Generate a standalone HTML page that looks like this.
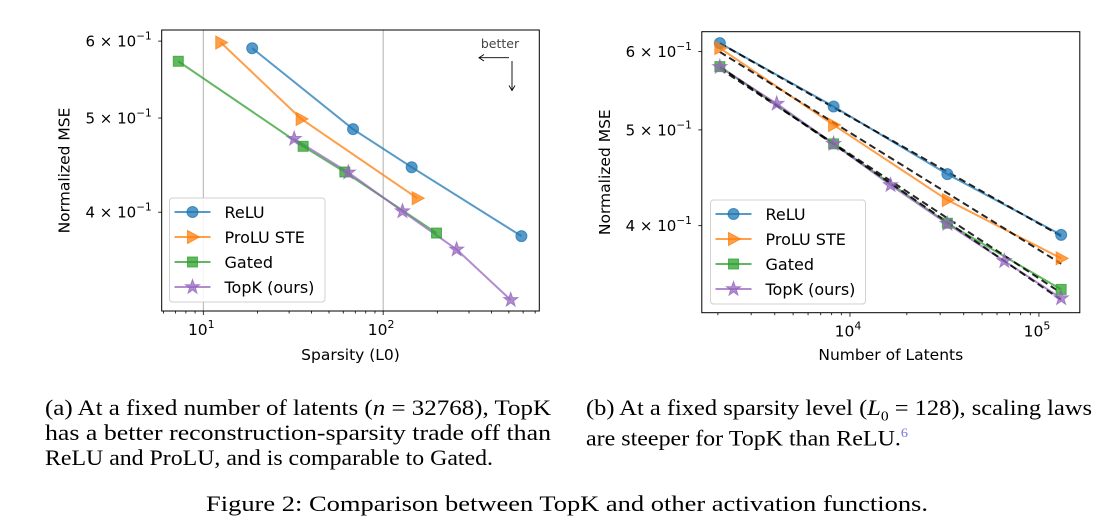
<!DOCTYPE html>
<html><head><meta charset="utf-8">
<style>
body{margin:0;background:#fff;width:1108px;height:529px;overflow:hidden;position:relative;font-family:"DejaVu Sans","Liberation Sans",sans-serif}
.ln{position:absolute;font-family:"Liberation Serif",serif;font-size:22px;line-height:25px;color:#000;white-space:nowrap;transform-origin:0 50%}
</style></head><body>
<svg id="fig" width="1108" height="380" style="position:absolute;left:0;top:0" font-family="DejaVu Sans, Liberation Sans, sans-serif"></svg>
<div>
<div class="ln" data-w="506" style="left:45px;top:395px">(a) At a fixed number of latents (<i>n</i> = 32768), TopK</div>
<div class="ln" data-w="506" style="left:45px;top:420px">has a better reconstruction-sparsity trade off than</div>
<div class="ln" data-w="448" style="left:45px;top:445px">ReLU and ProLU, and is comparable to Gated.</div>
</div>
<div>
<div class="ln" data-w="506" style="left:586px;top:395px">(b) At a fixed sparsity level (<i>L</i><sub style="font-size:14px">0</sub> = 128), scaling laws</div>
<div class="ln" data-w="322" style="left:586px;top:420px">are steeper for TopK than ReLU.<sup style="color:#7777dd;font-size:13px">6</sup></div>
</div>
<div class="ln" data-w="722" style="left:206px;top:491px">Figure 2: Comparison between TopK and other activation functions.</div>
<script>
// ---- Left chart data ----
const seriesNames=["ReLU","ProLU STE","Gated","TopK (ours)"];
const leftReluX=[18.7,68,144,587];
const leftReluY=[0.590,0.487,0.445,0.378];
const leftProluX=[12.5,35,154.6];
const leftProluY=[0.598,0.499,0.4135];
const leftGatedX=[7.26,35.9,61.2,198];
const leftGatedY=[0.572,0.4676,0.440,0.3807];
const leftTopkX=[32,64,128,256,512];
const leftTopkY=[0.476,0.4395,0.4009,0.3662,0.3249];
// ---- Right chart data ----
const rightReluX=[2048,8192,32768,131072];
const rightReluY=[0.612,0.528,0.451,0.3915];
const rightProluX=[2048,8192,32768,131072];
const rightProluY=[0.605,0.5058,0.4246,0.3707];
const rightGatedX=[2048,8192,32768,131072];
const rightGatedY=[0.5794,0.484,0.4023,0.3448];
const rightTopkX=[2048,4096,8192,16384,32768,65536,131072];
const rightTopkY=[0.579,0.5314,0.484,0.4397,0.4017,0.3684,0.3378];
const yTickVals=[0.4,0.5,0.6];
const yTickLabels=["4","5","6"];
const leftXTicks=[10,100];
const leftXTickLabels=["1","2"];
const rightXTicks=[10000,100000];
const rightXTickLabels=["4","5"];

// fit caption lines to reference widths
document.querySelectorAll('.ln').forEach(d=>{const w=+d.getAttribute('data-w');const r=d.getBoundingClientRect().width;d.style.transform='scaleX('+(w/r)+')';});

const NS="http://www.w3.org/2000/svg";
const svg=document.getElementById('fig');
const colors=["#1f77b4","#ff7f0e","#2ca02c","#9467bd"];
const markers=["circle","tri","square","star"];
function el(tag,attrs,parent){const e=document.createElementNS(NS,tag);for(const k in attrs)e.setAttribute(k,attrs[k]);(parent||svg).appendChild(e);return e;}
const L=Math.log10;
function makeChart(c){
  const g=el('g',{});
  
  
  const sx=v=>c.x0+(L(v)-L(c.xmin))/(L(c.xmax)-L(c.xmin))*(c.x1-c.x0);
  const sy=v=>c.y1-(L(v)-L(c.ymin))/(L(c.ymax)-L(c.ymin))*(c.y1-c.y0);
  if(c.grid){c.xt.forEach(v=>{const l=el('line',{x1:sx(v),x2:sx(v),y1:c.y0,y2:c.y1,stroke:'#b0b0b0','stroke-width':1},g);
    
    });}
  for(let d=Math.floor(L(c.xmin));d<=Math.ceil(L(c.xmax));d++){for(let m=2;m<=9;m++){const v=m*Math.pow(10,d);if(v>c.xmin&&v<c.xmax){const t=el('line',{x1:sx(v),x2:sx(v),y1:c.y1,y2:c.y1+2.5,stroke:'#000','stroke-width':0.8},g);
    
    }}}
  c.xt.forEach((v,i)=>{const t=el('line',{x1:sx(v),x2:sx(v),y1:c.y1,y2:c.y1+4,stroke:'#000','stroke-width':0.8},g);
    
    
    const tx=el('text',{x:sx(v)-2,y:c.y1+24,'font-size':15.5,'text-anchor':'middle',fill:'#000'},g);
    
    
    tx.innerHTML='10<tspan dy="-7" font-size="11">'+c.xtl[i]+'</tspan>';});
  yTickVals.forEach((v,i)=>{const t=el('line',{x1:c.x0-3.5,x2:c.x0,y1:sy(v),y2:sy(v),stroke:'#000','stroke-width':0.8},g);
    
    
    const tx=el('text',{x:c.x0-10,y:sy(v)+5.5,'font-size':15,'text-anchor':'end',fill:'#000'},g);
    
    
    tx.innerHTML=yTickLabels[i]+' × 10<tspan dy="-7" font-size="10.5">−1</tspan>';});
  const xl=el('text',{x:(c.x0+c.x1)/2,y:360,'font-size':15.5,'text-anchor':'middle'},g);
  
  
  xl.textContent=c.xlabel;
  const yl=el('text',{x:0,y:0,'font-size':15.5,'text-anchor':'middle',transform:`translate(${c.x0-92},${(c.y0+c.y1)/2})rotate(-90)`},g);
  
  
  yl.textContent='Normalized MSE';
  c.series.forEach((s,i)=>{const p=el('polyline',{points:s[0].map((x,j)=>sx(x)+','+sy(s[1][j])).join(' '),fill:'none',stroke:colors[i],'stroke-width':2,'stroke-opacity':0.75},g);
    
    });
  if(c.fit){c.series.forEach((s,i)=>{const lx=s[0].map(L),ly=s[1].map(L),n=lx.length;
    const mx=lx.reduce((a,b)=>a+b)/n,my=ly.reduce((a,b)=>a+b)/n;let num=0,den=0;
    for(let j=0;j<n;j++){num+=(lx[j]-mx)*(ly[j]-my);den+=(lx[j]-mx)**2;}
    const b=num/den,a=my-b*mx,xa=s[0][0],xb=s[0][n-1];
    const f=el('line',{x1:sx(xa),y1:sy(Math.pow(10,a+b*L(xa))),x2:sx(xb),y2:sy(Math.pow(10,a+b*L(xb))),stroke:'#000','stroke-width':2,'stroke-dasharray':'7,4','stroke-opacity':0.85},g);
    
    });}
  c.series.forEach((s,i)=>{s[0].forEach((x,j)=>{const m=marker(markers[i],sx(x),sy(s[1][j]),colors[i],g);
    
    });});
  const fr=el('rect',{x:c.x0,y:c.y0,width:c.x1-c.x0,height:c.y1-c.y0,fill:'none',stroke:'#000','stroke-width':1},g);
  
  
  const lg=el('g',{},g);
  
  
  el('rect',{x:c.lg.x,y:c.lg.y,width:c.lg.w,height:c.lg.h,rx:3,fill:'#fff','fill-opacity':0.85,stroke:'#d0d0d0'},lg);
  seriesNames.forEach((nm,i)=>{const yy=c.lg.y+14+i*25;
    const e=el('g',{},lg);
    
    
    el('line',{x1:c.lg.x+5,x2:c.lg.x+41,y1:yy,y2:yy,stroke:colors[i],'stroke-width':2,'stroke-opacity':0.75},e);
    marker(markers[i],c.lg.x+23,yy,colors[i],e);
    const t=el('text',{x:c.lg.x+55,y:yy+6,'font-size':16,fill:'#000'},e);t.textContent=nm;});
  return {sx,sy,g};
}
function marker(type,x,y,col,parent){let m;const a={fill:col,'fill-opacity':0.75,stroke:col,'stroke-opacity':0.75,'stroke-width':1};
  if(type==='circle')m=el('circle',Object.assign({cx:x,cy:y,r:5.5},a),parent);
  else if(type==='square')m=el('rect',Object.assign({x:x-5,y:y-5,width:10,height:10},a),parent);
  else if(type==='tri')m=el('polygon',Object.assign({points:`${x+7},${y} ${x-5},${y-6.5} ${x-5},${y+6.5}`},a),parent);
  else {let pts=[];for(let k=0;k<10;k++){const r=k%2?3:7.5,an=-Math.PI/2+k*Math.PI/5;pts.push((x+r*Math.cos(an)).toFixed(1)+','+(y+r*Math.sin(an)).toFixed(1));}
    m=el('polygon',Object.assign({points:pts.join(' ')},a),parent);}
  return m;}
makeChart({name:'left-chart',x0:161.7,x1:539.3,y0:30,y1:311,xmin:5.87,xmax:738,ymin:0.3165,ymax:0.616,
  xt:leftXTicks,xtl:leftXTickLabels,grid:true,fit:false,xlabel:'Sparsity (L0)',
  series:[[leftReluX,leftReluY],[leftProluX,leftProluY],[leftGatedX,leftGatedY],[leftTopkX,leftTopkY]],
  lg:{x:169.5,y:198,w:155.5,h:104}});
makeChart({name:'right-chart',x0:701.8,x1:1079.8,y0:31.7,y1:312.7,xmin:1644,xmax:164500,ymin:0.3266,ymax:0.6285,
  xt:rightXTicks,xtl:rightXTickLabels,grid:false,fit:true,xlabel:'Number of Latents',
  series:[[rightReluX,rightReluY],[rightProluX,rightProluY],[rightGatedX,rightGatedY],[rightTopkX,rightTopkY]],
  lg:{x:710.5,y:200,w:155,h:104}});
const an=el('g',{});


const bt=el('text',{x:500,y:48,'font-size':12.5,'text-anchor':'middle',fill:'#444'},an);bt.textContent='better';
el('line',{x1:509,y1:57.7,x2:479,y2:57.7,stroke:'#000','stroke-width':0.9},an);
el('polyline',{points:'484,54.5 479,57.7 484,61',fill:'none',stroke:'#000','stroke-width':0.9},an);
el('line',{x1:512,y1:61,x2:512,y2:90.5,stroke:'#000','stroke-width':0.9},an);
el('polyline',{points:'509,85.5 512,90.5 515,85.5',fill:'none',stroke:'#000','stroke-width':0.9},an);
</script>
</body></html>
